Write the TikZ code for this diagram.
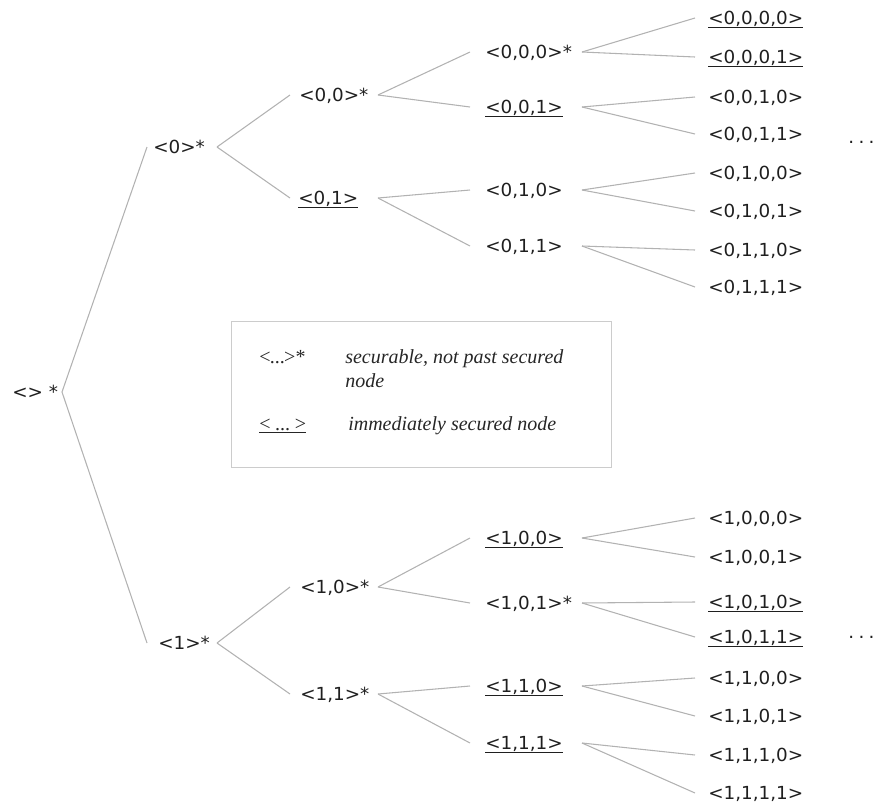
\documentclass[tikz,border=0pt]{standalone}
\usepackage{fontspec}
\newfontfamily\tf[FakeStretch=1.02]{DejaVu Sans}
\newfontfamily\lf{Liberation Serif}
\newcommand{\myul}[1]{\leavevmode\setbox0=\hbox{#1}\rlap{\rule[-2.4pt]{\wd0}{0.75pt}}\box0}
\begin{document}
\begin{tikzpicture}[x=0.75pt,y=-0.75pt,
  t/.style={font=\tf\fontsize{13.5}{15}\selectfont, text=black!88, inner sep=0pt, anchor=west, text height=9.8pt, text depth=0pt},
  dots/.style={font=\tf\fontsize{13.5}{15}\selectfont, text=black!88, inner sep=0pt, anchor=base west},
  edge/.style={draw=black!30, line width=0.8pt},
  legsym/.style={font=\lf\fontsize{15}{17}\selectfont, text=black!85, inner sep=0pt, anchor=base west},
  legtxt/.style={font=\lf\itshape\fontsize{15}{18}\selectfont, text=black!85, inner sep=0pt, anchor=base west},
  legbox/.style={draw=black!20, line width=0.8pt}]
\useasboundingbox (0,0) rectangle (875,804);
% level x positions
\coordinate (a0) at (62,0);
\coordinate (a1) at (217,0);
\coordinate (a2) at (378,0);
\coordinate (a3) at (582,0);
\coordinate (e1) at (147,0);
\coordinate (e2) at (290,0);
\coordinate (e3) at (470,0);
\coordinate (e4) at (695,0);
% nodes
\node[t] (r) at (12,392) {<> *};
\node[t] (n0) at (153,147) {<0>*};
\node[t] (n1) at (158,643) {<1>*};
\node[t] (n00) at (299,95) {<0,0>*};
\node[t] (n01) at (298,198) {\myul{<0,1>}};
\node[t] (n10) at (300,587) {<1,0>*};
\node[t] (n11) at (300,694) {<1,1>*};
\node[t] (n000) at (485,52) {<0,0,0>*};
\node[t] (n001) at (485,107) {\myul{<0,0,1>}};
\node[t] (n010) at (485,190) {<0,1,0>};
\node[t] (n011) at (485,246) {<0,1,1>};
\node[t] (n100) at (485,538) {\myul{<1,0,0>}};
\node[t] (n101) at (485,603) {<1,0,1>*};
\node[t] (n110) at (485,686) {\myul{<1,1,0>}};
\node[t] (n111) at (485,743) {\myul{<1,1,1>}};
\node[t] (n0000) at (708,18) {\myul{<0,0,0,0>}};
\node[t] (n0001) at (708,57) {\myul{<0,0,0,1>}};
\node[t] (n0010) at (708,97) {<0,0,1,0>};
\node[t] (n0011) at (708,134) {<0,0,1,1>};
\node[t] (n0100) at (708,173) {<0,1,0,0>};
\node[t] (n0101) at (708,211) {<0,1,0,1>};
\node[t] (n0110) at (708,250) {<0,1,1,0>};
\node[t] (n0111) at (708,287) {<0,1,1,1>};
\node[t] (n1000) at (708,518) {<1,0,0,0>};
\node[t] (n1001) at (708,557) {<1,0,0,1>};
\node[t] (n1010) at (708,602) {\myul{<1,0,1,0>}};
\node[t] (n1011) at (708,637) {\myul{<1,0,1,1>}};
\node[t] (n1100) at (708,678) {<1,1,0,0>};
\node[t] (n1101) at (708,716) {<1,1,0,1>};
\node[t] (n1110) at (708,755) {<1,1,1,0>};
\node[t] (n1111) at (708,793) {<1,1,1,1>};
\node[dots] (d1) at (848,143) {.\kern3.3pt.\kern3.3pt.};
\node[dots] (d2) at (848,638) {.\kern3.3pt.\kern3.3pt.};
% edges
\foreach \p/\c in {r/n0,r/n1}{\draw[edge] (\p -| a0) -- (\c -| e1);}
\foreach \p/\c in {n0/n00,n0/n01,n1/n10,n1/n11}{\draw[edge] (\p -| a1) -- (\c -| e2);}
\foreach \p/\c in {n00/n000,n00/n001,n01/n010,n01/n011,n10/n100,n10/n101,n11/n110,n11/n111}{\draw[edge] (\p -| a2) -- (\c -| e3);}
\foreach \p/\c in {n000/n0000,n000/n0001,n001/n0010,n001/n0011,n010/n0100,n010/n0101,n011/n0110,n011/n0111,
  n100/n1000,n100/n1001,n101/n1010,n101/n1011,n110/n1100,n110/n1101,n111/n1110,n111/n1111}{\draw[edge] (\p -| a3) -- (\c -| e4);}
% legend
\node[legbox, inner sep=0pt, minimum width=380*0.75pt, minimum height=146*0.75pt, anchor=north west] (leg) at (231,321) {};
\node[legsym] (ls1) at (259,363) {<\kern-0.5pt...\kern-0.5pt>*};
\node[legsym] (ls2) at (259,430) {\myul{<\kern3.5pt...\kern3.5pt>}};
\node[legtxt] (lt1) at (345,363) {securable, not past secured};
\node[legtxt] (lt1b) at (345,387) {node};
\node[legtxt] (lt2) at (348,430) {immediately secured node};
\end{tikzpicture}
\end{document}
